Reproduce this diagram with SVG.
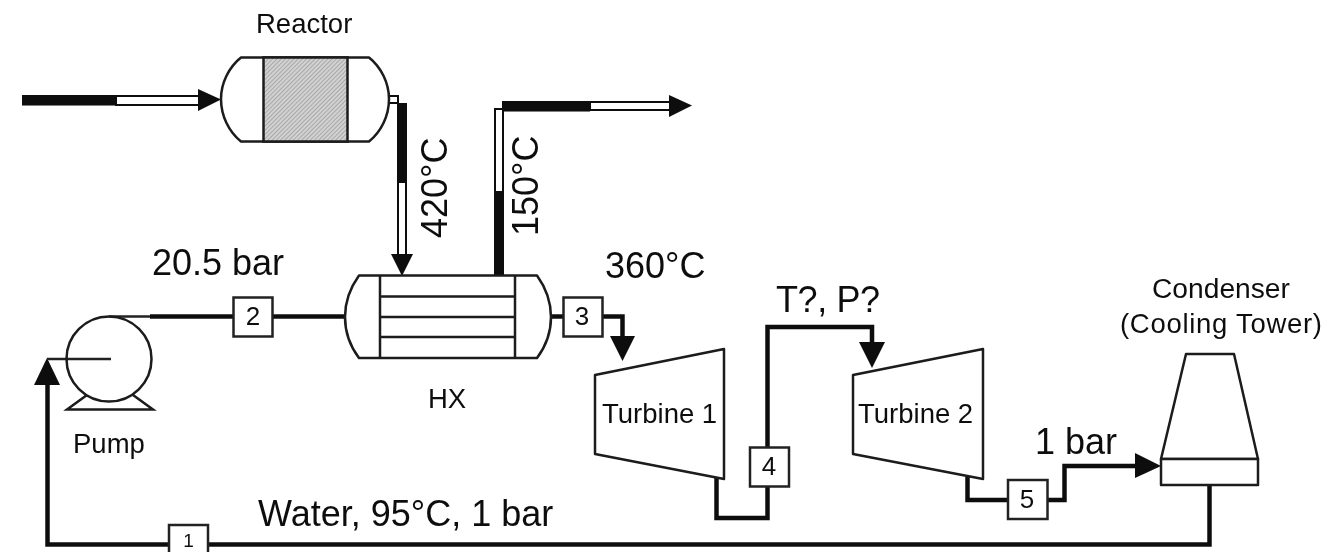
<svg xmlns="http://www.w3.org/2000/svg" width="1344" height="552" viewBox="0 0 1344 552">
<style>
text{font-family:"Liberation Sans",Arial,sans-serif;fill:#111}
.big{font-size:36px}
.mid{font-size:27.5px}
.con{font-size:28.2px}
.num{font-size:26px;text-anchor:middle}
.eq{fill:#fff;stroke:#1a1a1a;stroke-width:2.5;stroke-linejoin:round}
.line{fill:none;stroke:#1a1a1a;stroke-width:2.5}
.flow{fill:none;stroke:#111;stroke-width:4.5;stroke-linejoin:miter}
.thin{fill:none;stroke:#222;stroke-width:2.5}
.box{fill:#fff;stroke:#222;stroke-width:2.5}
.head{fill:#0a0a0a;stroke:none}
.solid{fill:#0a0a0a;stroke:none}
.hollow{fill:#fff;stroke:#111;stroke-width:2}
</style>
<defs>
<pattern id="hatch" width="3" height="3" patternUnits="userSpaceOnUse" patternTransform="rotate(-45)">
<rect width="3" height="3" fill="#d2d2d2"/>
<rect width="3" height="1" fill="#a8a8a8"/>
</pattern>
<filter id="soft" x="0" y="0" width="1344" height="552" filterUnits="userSpaceOnUse">
<feGaussianBlur stdDeviation="0.45"/>
</filter>
</defs>
<rect width="1344" height="552" fill="#fff"/>
<g filter="url(#soft)">
<g id="connectors">
<rect class="hollow" x="116" y="96" width="86" height="9"/>
<rect class="solid" x="22" y="95" width="94" height="10.500"/>
<polygon class="head" points="198,89 221,99.500 198,111"/>
<rect class="hollow" x="389" y="96" width="9" height="7"/>
<rect class="hollow" x="398" y="182" width="8" height="75"/>
<rect class="solid" x="397" y="103" width="10" height="79"/>
<polygon class="head" points="391,254 413,254 402,276"/>
<rect class="solid" x="494" y="192" width="10" height="84"/>
<rect class="hollow" x="495" y="109" width="8" height="83"/>
<rect class="hollow" x="590" y="102" width="82" height="8"/>
<rect class="solid" x="502" y="101" width="88" height="10.500"/>
<polygon class="head" points="669,95 692,105.500 669,117"/>
<path class="flow" d="M1209.500,485V544.500H47.500V384"/>
<polygon class="head" points="34,385 60,385 47,358"/>
<path class="thin" d="M47,359H111"/>
<path class="thin" d="M109,316.500H152"/>
<path class="flow" d="M150,316.500H345"/>
<path class="flow" d="M551,316.500H563"/>
<path class="flow" d="M603,316.500H622.500V338"/>
<polygon class="head" points="610,336 635,336 622.500,361"/>
<path class="flow" d="M716.500,478V518H767.500V327H872V344"/>
<polygon class="head" points="859,342 885,342 872,368"/>
<path class="flow" d="M967.500,477V500H1008M1048,500H1064.500V466H1137"/>
<polygon class="head" points="1135,453 1161,466 1135,478"/>
</g>

<g id="reactor">
<path class="eq" d="M241,57.500H369C381,67 389,83 389,99C389,116 381,132 369,141.500H241C229,132 221,116 221,99C221,83 229,67 241,57.500Z"/>
<rect x="263.500" y="57.500" width="84" height="84" fill="url(#hatch)" stroke="#1a1a1a" stroke-width="2.500"/>
<text class="mid" x="256" y="33">Reactor</text>
</g>

<g id="pump">
<path class="line" d="M87,395L67,409.500H153L133,395"/>
<circle class="line" cx="109" cy="359" r="42.500"/>
<text class="mid" x="73" y="453">Pump</text>
</g>

<g id="hx">
<path class="eq" d="M359,275.500H537C546,288 551,302 551,317C551,332 546,346 537,358H359C350,346 345,332 345,317C345,302 350,288 359,275.500Z"/>
<path class="line" d="M380,275.500V358M515,275.500V358M380,296.500H515M380,317H515M380,337H515"/>
<text class="mid" x="428" y="408">HX</text>
</g>

<g id="turbine1">
<polygon class="eq" points="595,375 724,349 724,479 595,454"/>
<text class="mid" x="602" y="423">Turbine 1</text>
</g>

<g id="turbine2">
<polygon class="eq" points="853,375 983,349 983,479 853,454"/>
<text class="mid" x="858" y="423">Turbine 2</text>
</g>

<g id="condenser">
<polygon class="eq" points="1186,354 1234,354 1258,459 1161,459"/>
<rect class="eq" x="1161" y="459" width="97" height="26"/>
<text class="con" x="1152" y="298">Condenser</text>
<text class="mid" x="1120" y="333" textLength="202">(Cooling Tower)</text>
</g>

<g id="state1"><rect class="box" x="169" y="525" width="39" height="40"/><text class="num" x="188.500" y="547" style="font-size:19px">1</text></g>
<g id="state2"><rect class="box" x="233.500" y="297.500" width="39" height="39"/><text class="num" x="253" y="325">2</text></g>
<g id="state3"><rect class="box" x="563.500" y="297.500" width="39" height="39"/><text class="num" x="582" y="325">3</text></g>
<g id="state4"><rect class="box" x="750" y="447.500" width="39" height="39"/><text class="num" x="769" y="475">4</text></g>
<g id="state5"><rect class="box" x="1008" y="480" width="39.500" height="39"/><text class="num" x="1027" y="508">5</text></g>

<g id="labels">
<text class="big" x="152" y="275">20.5 bar</text>
<text class="big" x="605" y="278">360°C</text>
<text class="big" x="776" y="312" textLength="104">T?, P?</text>
<text class="big" x="258" y="526">Water, 95°C, 1 bar</text>
<text class="big" x="1035" y="454">1 bar</text>
<text class="big" transform="translate(447,238) rotate(-90)">420°C</text>
<text class="big" transform="translate(538,236) rotate(-90)">150°C</text>
</g>
</g>
</svg>
